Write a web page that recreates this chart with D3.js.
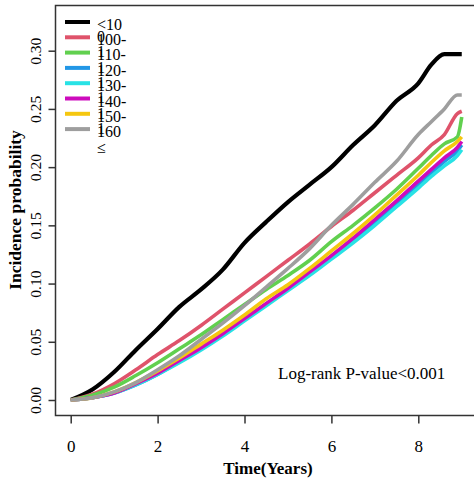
<!DOCTYPE html>
<html>
<head>
<meta charset="utf-8">
<script src="https://cdn.jsdelivr.net/npm/d3@7"></script>
<style>
body{margin:0;background:#fff;}
#myGraph{width:474px;height:482px;display:block;}
text{font-family:"Liberation Serif","Times New Roman",serif;fill:#000;}
</style>
</head>
<body>
<svg id="myGraph"></svg>
<script>
// time points (years)
var times = [0,0.5,1,1.5,2,2.5,3,3.5,4,4.5,5,5.5,6,6.5,7,7.5,8,8.3,8.6,8.9,9.0];

var groups = ["<10","100-","110-","120-","130-","140-","150-","160"];
var groupColors = ["#000000","#DF536B","#61D04F","#2297E6","#28E2E5","#CD0BBC","#F5C710","#9E9E9E"];

var s1 = [0,0.009,0.024,0.043,0.061,0.080,0.095,0.112,0.135,0.153,0.170,0.185,0.200,0.219,0.236,0.257,0.272,0.288,0.297,0.297,0.297];
var s2 = [0,0.005,0.014,0.026,0.039,0.051,0.064,0.078,0.092,0.106,0.120,0.134,0.149,0.163,0.178,0.193,0.208,0.219,0.228,0.246,0.248];
var s3 = [0,0.004,0.011,0.021,0.032,0.044,0.056,0.069,0.082,0.095,0.107,0.120,0.136,0.150,0.165,0.181,0.199,0.210,0.220,0.226,0.243];
var s4 = [0,0.002,0.006,0.013,0.022,0.033,0.044,0.056,0.069,0.082,0.095,0.108,0.122,0.136,0.152,0.168,0.185,0.195,0.205,0.214,0.219];
var s5 = [0,0.002,0.006,0.013,0.022,0.032,0.043,0.055,0.068,0.081,0.094,0.107,0.121,0.135,0.150,0.166,0.182,0.192,0.201,0.210,0.215];
var s6 = [0,0.002,0.006,0.014,0.023,0.034,0.045,0.057,0.070,0.083,0.096,0.110,0.124,0.139,0.155,0.171,0.188,0.198,0.208,0.217,0.222];
var s7 = [0,0.002,0.007,0.015,0.025,0.036,0.048,0.060,0.073,0.087,0.099,0.113,0.128,0.143,0.159,0.176,0.193,0.204,0.214,0.222,0.226];
var s8 = [0,0.002,0.007,0.015,0.026,0.038,0.052,0.066,0.081,0.097,0.113,0.130,0.150,0.168,0.187,0.205,0.228,0.239,0.250,0.262,0.262];

var xTicks = [0,2,4,6,8];
var yTicks = [0,0.05,0.10,0.15,0.20,0.25,0.30];

window.addEventListener("load",function(){

	var svg = d3.select("#myGraph");
	var series = [s1,s2,s3,s4,s5,s6,s7,s8];

	var x = d3.scaleLinear().domain([0,8]).range([70.7,418.3]);
	var y = d3.scaleLinear().domain([0,0.30]).range([400,50.7]);

	// box (right side falls outside the picture)
	svg.append("path")
		.attr("d","M474,5.5H55.5V415.5H474")
		.attr("fill","none")
		.attr("stroke","#333")
		.attr("stroke-width",1.5);

	// x axis
	var xAxis = svg.append("g")
		.attr("transform","translate(0,415.5)")
		.call(d3.axisBottom(x).tickValues(xTicks).tickSize(8).tickSizeOuter(0).tickPadding(16).tickFormat(d3.format("d")));
	xAxis.select(".domain").remove();
	xAxis.selectAll("line").attr("stroke","#333").attr("stroke-width",1.5);
	xAxis.selectAll("text").style("font-size","17px").attr("fill","#000").attr("font-family",null);

	// y axis
	var yAxis = svg.append("g")
		.attr("transform","translate(55.5,0)")
		.call(d3.axisLeft(y).tickValues(yTicks).tickSize(7).tickSizeOuter(0).tickFormat(d3.format(".2f")));
	yAxis.select(".domain").remove();
	yAxis.selectAll("line").attr("stroke","#333").attr("stroke-width",1.5);
	yAxis.selectAll("text")
		.attr("x",null).attr("dy",null).attr("font-family",null)
		.attr("fill","#000")
		.style("font-size","15.5px")
		.attr("text-anchor","middle")
		.attr("transform","translate(-14.5,0) rotate(-90)");

	// axis titles
	svg.append("text")
		.attr("transform","translate(21,210) rotate(-90)")
		.attr("text-anchor","middle")
		.style("font-size","17.5px")
		.style("font-weight","bold")
		.text("Incidence probability");

	svg.append("text")
		.attr("x",268).attr("y",474)
		.attr("text-anchor","middle")
		.style("font-size","17px")
		.style("font-weight","bold")
		.text("Time(Years)");

	// curves
	var line = d3.line()
		.curve(d3.curveMonotoneX)
		.x(function(d,i){return x(times[i]);})
		.y(function(d){return y(d);});

	svg.selectAll(".curve")
		.data(series)
		.enter()
		.append("path")
		.attr("class","curve")
		.attr("d",line)
		.attr("fill","none")
		.attr("stroke",function(d,i){return groupColors[i];})
		.attr("stroke-width",function(d,i){return i==0 ? 4.2 : 3.6;})
		.attr("stroke-linejoin","round");

	// legend
	var legend = svg.selectAll(".leg")
		.data(groups)
		.enter()
		.append("g")
		.attr("class","leg")
		.attr("transform",function(d,i){return "translate(0,"+(22+i*15.3)+")";});

	legend.append("line")
		.attr("x1",65).attr("x2",90)
		.attr("stroke",function(d,i){return groupColors[i];})
		.attr("stroke-width",4);

	legend.append("text")
		.attr("x",97).attr("y",function(d,i){return 7.5+i*0.1;})
		.style("font-size","16px")
		.text(function(d){return d;});

	// wrapped second lines of the legend labels overlap the next row
	var wrapped = ["0","1","1","1","1","1","1","\u2264"];
	legend.append("text")
		.attr("x",97).attr("y",function(d,i){return i==7 ? 24 : 20;})
		.style("font-size","16px")
		.text(function(d,i){return wrapped[i];});

	svg.append("text")
		.attr("x",278).attr("y",379)
		.style("font-size","17px")
		.text("Log-rank P-value<0.001");
});
</script>
</body>
</html>
